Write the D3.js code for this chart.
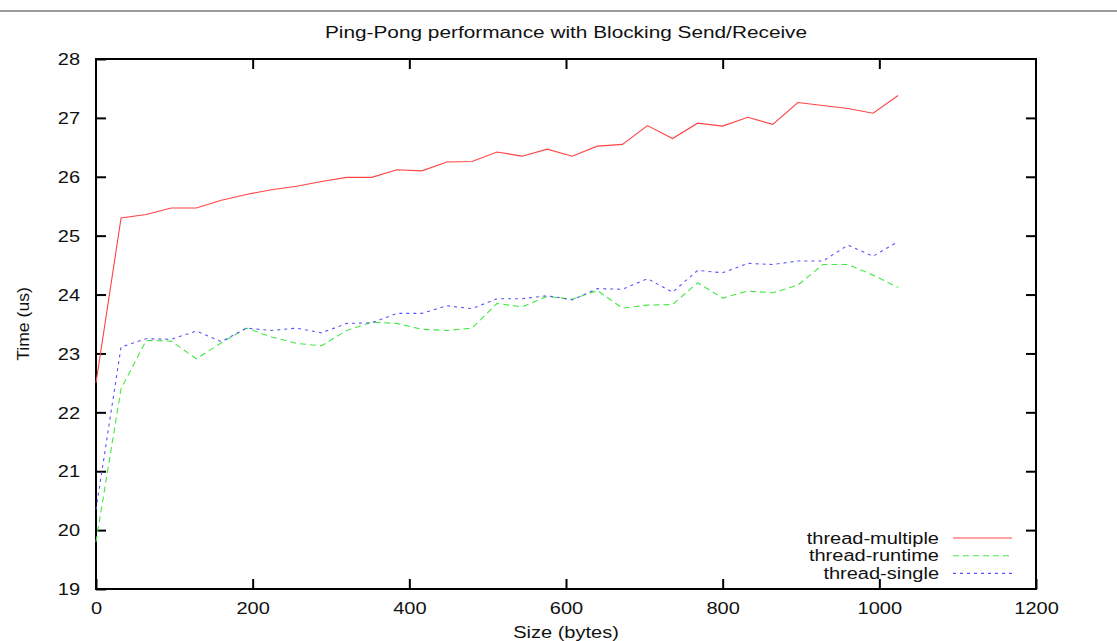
<!DOCTYPE html>
<html>
<head>
<meta charset="UTF-8">
<title>Ping-Pong performance</title>
<script src="https://cdn.jsdelivr.net/npm/d3@7"></script>
<style>
  body { margin: 0; background: #fff; }
  svg text { font-family: "Liberation Sans", Arial, sans-serif; fill: #111; }
</style>
</head>
<body>
<svg id="chart" width="1117" height="641"></svg>
<script>
  // message sizes in bytes
  var sizes = [0, 32, 64, 96, 128, 160, 192, 224, 256, 288, 320, 352, 384, 416, 448, 480,
    512, 544, 576, 608, 640, 672, 704, 736, 768, 800, 832, 864, 896, 928, 960, 992, 1024];

  // times in microseconds
  var threadMultiple = [22.5, 25.3, 25.36, 25.47, 25.47, 25.6, 25.7, 25.78, 25.84, 25.92, 25.99,
    25.99, 26.12, 26.1, 26.25, 26.26, 26.42, 26.35, 26.47, 26.35, 26.52, 26.55, 26.87, 26.65,
    26.91, 26.86, 27.01, 26.89, 27.26, 27.21, 27.16, 27.08, 27.38];
  var threadRuntime = [19.8, 22.4, 23.22, 23.21, 22.91, 23.18, 23.43, 23.28, 23.17, 23.13, 23.39,
    23.53, 23.51, 23.41, 23.39, 23.43, 23.85, 23.79, 23.97, 23.92, 24.07, 23.77, 23.82, 23.83,
    24.2, 23.94, 24.06, 24.03, 24.16, 24.51, 24.51, 24.33, 24.12];
  var threadSingle = [20.35, 23.11, 23.25, 23.24, 23.38, 23.2, 23.43, 23.39, 23.43, 23.35, 23.51,
    23.52, 23.68, 23.68, 23.81, 23.76, 23.93, 23.93, 23.98, 23.91, 24.1, 24.09, 24.27, 24.04,
    24.41, 24.37, 24.53, 24.51, 24.57, 24.57, 24.84, 24.65, 24.9];

  var seriesNames = ["thread-multiple", "thread-runtime", "thread-single"];
  var xTicks = [0, 200, 400, 600, 800, 1000, 1200];
  var yTicks = [19, 20, 21, 22, 23, 24, 25, 26, 27, 28];

  (function () {
    var W = 1117;
    var mLeft = 96, mRight = 1036, mTop = 59, mBottom = 589;
    var stretch = 1.25; // the original font is wider than Arial

    var svg = d3.select("#chart");

    // widen text horizontally to match the picture
    function widen(sel, k) {
      sel.each(function () {
        var len = this.getComputedTextLength();
        d3.select(this).attr("textLength", len * k).attr("lengthAdjust", "spacingAndGlyphs");
      });
    }

    // page separator line at the top
    svg.append("line")
      .attr("x1", 0).attr("x2", W).attr("y1", 11).attr("y2", 11)
      .attr("stroke", "#7a7a7a").attr("stroke-width", 1.5);

    var x = d3.scaleLinear().domain([0, 1200]).range([mLeft, mRight]);
    var y = d3.scaleLinear().domain([19, 28]).range([mBottom, mTop]);

    // axes, ticks pointing inwards like gnuplot
    svg.append("g").attr("transform", "translate(0," + mBottom + ")")
      .call(d3.axisBottom(x).tickValues(xTicks).tickSize(-10).tickPadding(14).tickFormat(d3.format("d")));
    var gy = svg.append("g").attr("transform", "translate(" + mLeft + ",0)")
      .call(d3.axisLeft(y).tickValues(yTicks).tickSize(-10).tickPadding(16).tickFormat(d3.format("d")));
    svg.append("g").attr("transform", "translate(0," + mTop + ")")
      .call(d3.axisTop(x).tickValues(xTicks.slice(1, -1)).tickSize(-10).tickFormat(""));
    svg.append("g").attr("transform", "translate(" + mRight + ",0)")
      .call(d3.axisRight(y).tickValues(yTicks.slice(1, -1)).tickSize(-10).tickFormat(""));

    svg.selectAll(".domain").remove();
    svg.selectAll(".tick line").attr("stroke", "#000").attr("stroke-width", 2);
    svg.selectAll(".tick text").style("font-size", "16px").attr("fill", "#111");
    gy.selectAll(".tick text").attr("dy", "0.36em");
    widen(svg.selectAll(".tick text"), stretch);

    // frame
    svg.append("rect")
      .attr("x", mLeft).attr("y", mTop)
      .attr("width", mRight - mLeft).attr("height", mBottom - mTop)
      .attr("fill", "none").attr("stroke", "#000").attr("stroke-width", 2);

    // lines
    var series = [
      { name: seriesNames[0], values: threadMultiple, color: "#ff4444", dash: null },
      { name: seriesNames[1], values: threadRuntime, color: "#44e844", dash: "6,4" },
      { name: seriesNames[2], values: threadSingle, color: "#5555ff", dash: "3,4" }
    ];

    var line = d3.line()
      .x(function (d, i) { return x(sizes[i]); })
      .y(function (d) { return y(d); });

    series.forEach(function (s) {
      svg.append("path")
        .datum(s.values)
        .attr("d", line)
        .attr("fill", "none")
        .attr("stroke", s.color)
        .attr("stroke-width", 1.1)
        .attr("stroke-dasharray", s.dash);
    });

    // legend
    var legend = svg.append("g");
    series.forEach(function (s, i) {
      var ly = 538 + i * 17.7;
      legend.append("text")
        .attr("x", 939).attr("y", ly).attr("dy", "0.35em")
        .attr("text-anchor", "end")
        .style("font-size", "16px")
        .text(s.name);
      legend.append("line")
        .attr("x1", 953).attr("x2", 1012).attr("y1", ly).attr("y2", ly)
        .attr("stroke", s.color).attr("stroke-width", 1.1)
        .attr("stroke-dasharray", s.dash);
    });
    widen(legend.selectAll("text"), stretch);

    // titles
    var title = svg.append("text")
      .attr("x", (mLeft + mRight) / 2).attr("y", 38)
      .attr("text-anchor", "middle")
      .style("font-size", "16px")
      .text("Ping-Pong performance with Blocking Send/Receive");
    widen(title, 1.3);

    var xLabel = svg.append("text")
      .attr("x", (mLeft + mRight) / 2).attr("y", 638)
      .attr("text-anchor", "middle")
      .style("font-size", "16px")
      .text("Size (bytes)");
    widen(xLabel, stretch);

    var yLabel = svg.append("text")
      .attr("transform", "translate(29," + ((mTop + mBottom) / 2) + ") rotate(-90)")
      .attr("text-anchor", "middle")
      .style("font-size", "16px")
      .text("Time (us)");
    widen(yLabel, 1.1);
  })();
</script>
</body>
</html>
